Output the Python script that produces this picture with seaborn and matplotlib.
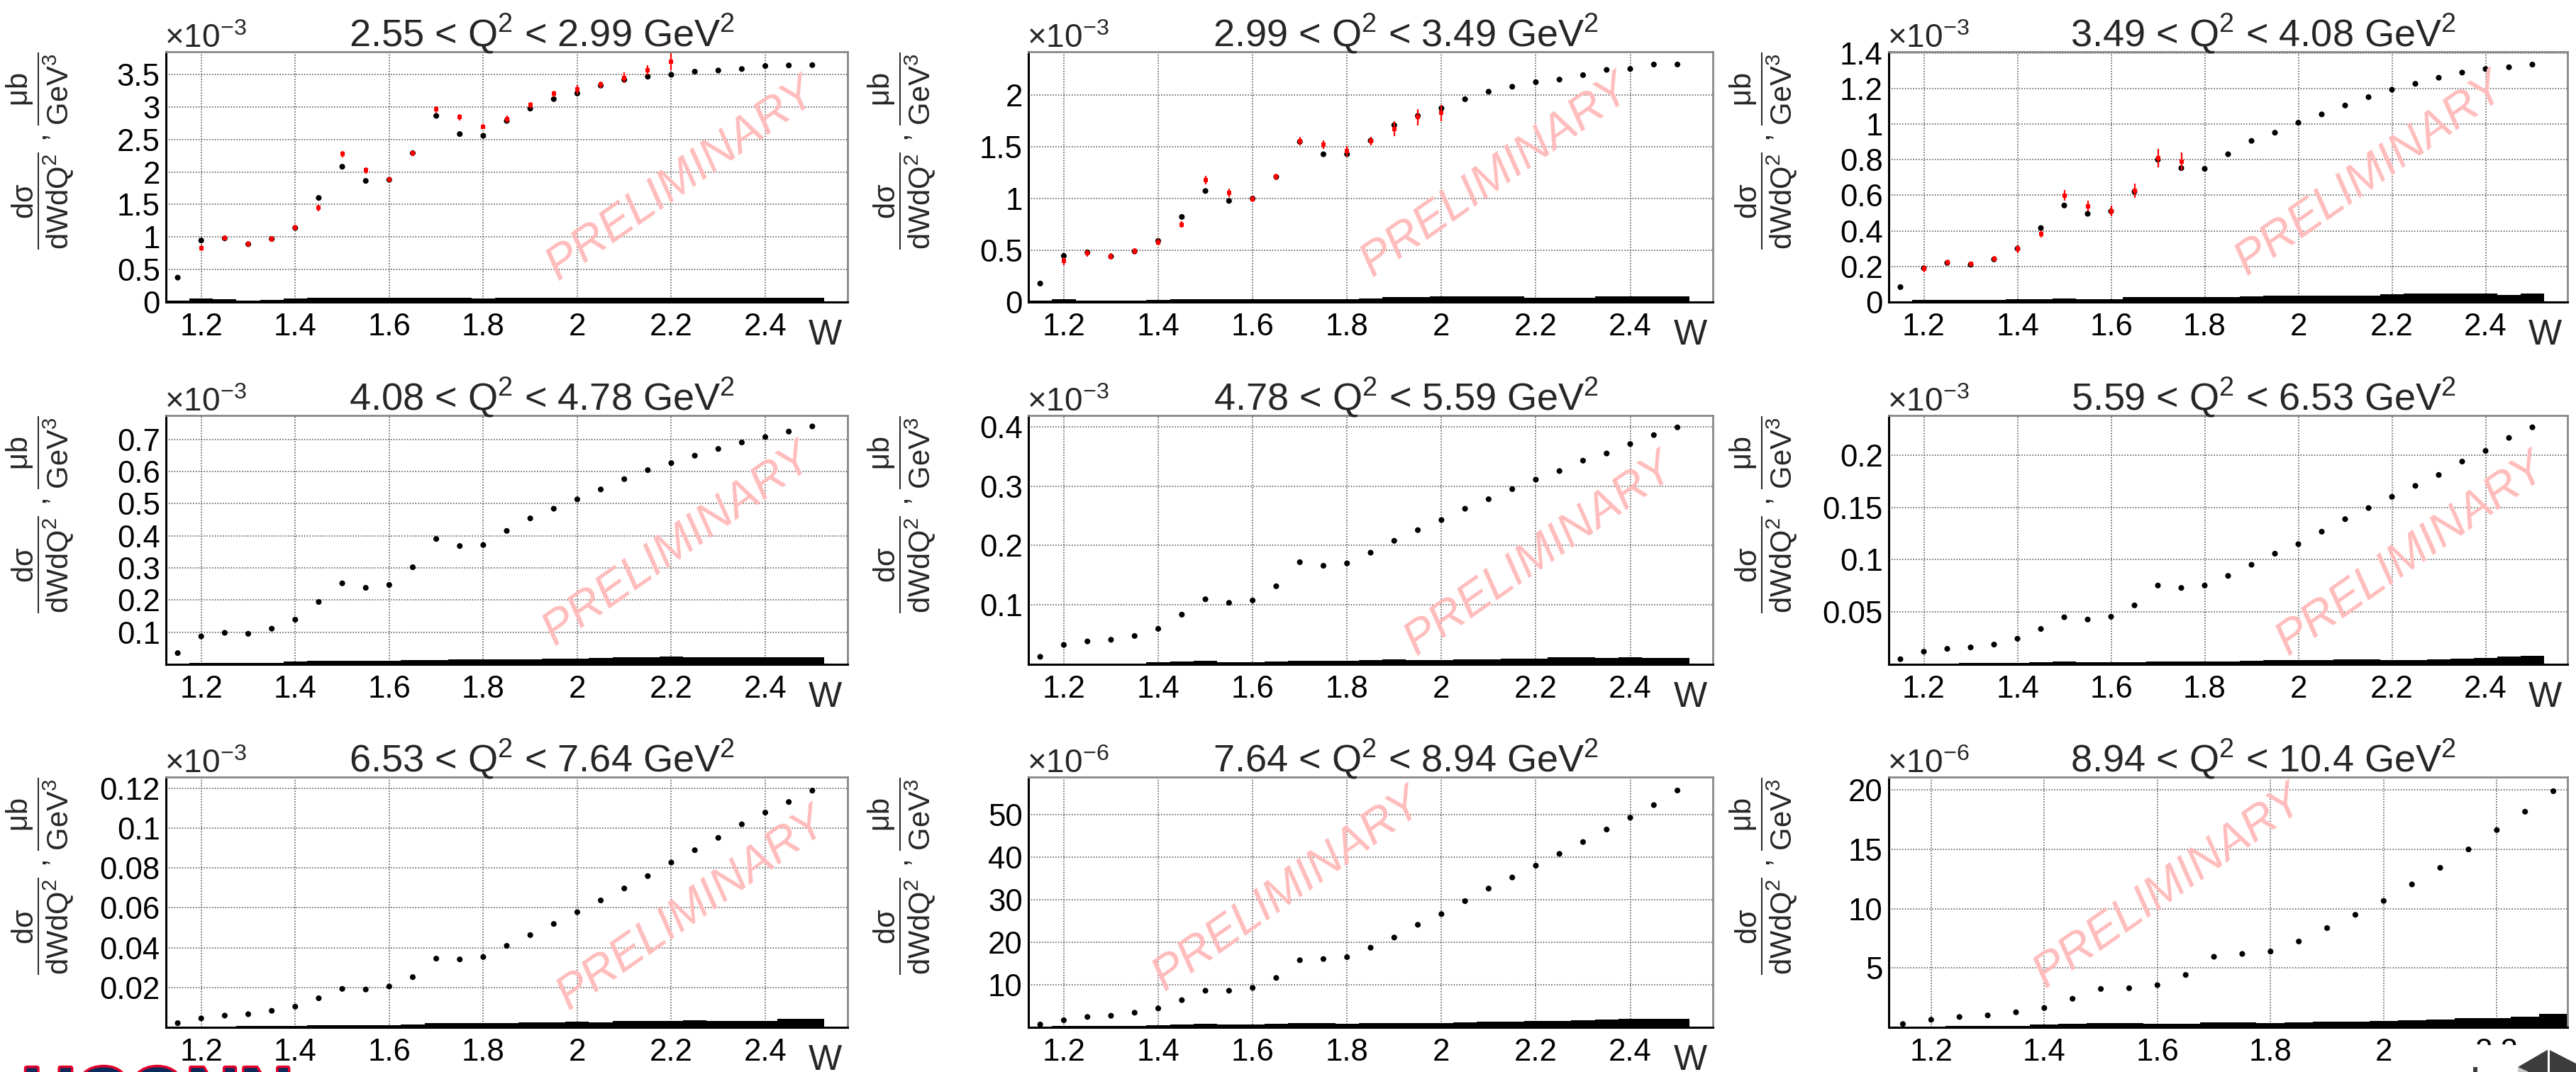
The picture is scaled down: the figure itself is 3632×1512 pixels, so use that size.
import matplotlib
matplotlib.use("Agg")
import matplotlib.pyplot as plt
import matplotlib.patheffects as pe
from matplotlib.patches import Polygon, Rectangle
import seaborn as sns

sns.set_style("white")
plt.rcParams['font.family'] = ['Liberation Sans', 'DejaVu Sans']
plt.rcParams['mathtext.fontset'] = 'custom'
plt.rcParams['mathtext.rm'] = 'Liberation Sans'
plt.rcParams['mathtext.it'] = 'Liberation Sans'
plt.rcParams['mathtext.bf'] = 'Liberation Sans:bold'
plt.rcParams['mathtext.default'] = 'regular'

# W bin centres
W = [1.15, 1.20, 1.25, 1.30, 1.35, 1.40, 1.45, 1.50, 1.55, 1.60, 1.65, 1.70, 1.75, 1.80,
     1.85, 1.90, 1.95, 2.00, 2.05, 2.10, 2.15, 2.20, 2.25, 2.30, 2.35, 2.40, 2.45, 2.50]
W9 = W[:24]

titles = ["2.55 < Q$^{2}$ < 2.99 GeV$^{2}$", "2.99 < Q$^{2}$ < 3.49 GeV$^{2}$",
          "3.49 < Q$^{2}$ < 4.08 GeV$^{2}$", "4.08 < Q$^{2}$ < 4.78 GeV$^{2}$",
          "4.78 < Q$^{2}$ < 5.59 GeV$^{2}$", "5.59 < Q$^{2}$ < 6.53 GeV$^{2}$",
          "6.53 < Q$^{2}$ < 7.64 GeV$^{2}$", "7.64 < Q$^{2}$ < 8.94 GeV$^{2}$",
          "8.94 < Q$^{2}$ < 10.4 GeV$^{2}$"]
exponents = [-3, -3, -3, -3, -3, -3, -3, -6, -6]

# black points (model), in units of the axis multiplier
xs1 = [0.376, 0.947, 0.98, 0.89, 0.97, 1.14, 1.602, 2.082, 1.864, 1.88, 2.29, 2.864, 2.584, 2.558,
       2.787, 2.976, 3.122, 3.209, 3.33, 3.42, 3.467, 3.496, 3.544, 3.562, 3.585, 3.631, 3.64, 3.645]
xs2 = [0.179, 0.446, 0.48, 0.44, 0.49, 0.59, 0.823, 1.074, 0.978, 1.0, 1.21, 1.55, 1.429, 1.43,
       1.56, 1.71, 1.80, 1.874, 1.961, 2.034, 2.082, 2.126, 2.151, 2.194, 2.245, 2.254, 2.297, 2.297]
xs3 = [0.084, 0.19, 0.22, 0.21, 0.24, 0.30, 0.416, 0.543, 0.496, 0.51, 0.62, 0.80, 0.753, 0.749,
       0.831, 0.906, 0.952, 1.008, 1.055, 1.105, 1.152, 1.194, 1.227, 1.261, 1.29, 1.31, 1.32, 1.335]
xs4 = [0.035, 0.087, 0.098, 0.095, 0.111, 0.139, 0.194, 0.252, 0.238, 0.247, 0.302, 0.39, 0.368, 0.371,
       0.415, 0.454, 0.484, 0.513, 0.544, 0.576, 0.604, 0.626, 0.649, 0.67, 0.69, 0.707, 0.724, 0.74]
xs5 = [0.0127, 0.0327, 0.0386, 0.0414, 0.0478, 0.0598, 0.0837, 0.1096, 0.1036, 0.1076, 0.1315, 0.172,
       0.166, 0.170, 0.188, 0.208, 0.226, 0.243, 0.262, 0.278, 0.295, 0.311, 0.3255, 0.343, 0.355,
       0.371, 0.386, 0.399]
xs6 = [0.0049, 0.0121, 0.0148, 0.0162, 0.0189, 0.0245, 0.0338, 0.045, 0.0428, 0.0455, 0.0563, 0.0753,
       0.073, 0.0753, 0.0845, 0.0951, 0.1057, 0.1148, 0.1267, 0.1387, 0.1493, 0.16, 0.1705, 0.1809,
       0.1937, 0.2039, 0.2163, 0.2264]
xs7 = [0.0021, 0.0045, 0.0059, 0.0066, 0.0083, 0.0104, 0.0146, 0.0193, 0.019, 0.0205, 0.0252, 0.0345,
       0.0341, 0.0353, 0.0409, 0.0463, 0.0519, 0.0578, 0.0637, 0.0697, 0.0759, 0.0827, 0.0889, 0.0951,
       0.1019, 0.1078, 0.1131, 0.1188]
xs8 = [0.67, 1.67, 2.45, 2.73, 3.45, 4.45, 6.4, 8.62, 8.62, 9.29, 11.63, 15.8, 16.08, 16.52, 18.75,
       21.14, 24.14, 26.65, 29.7, 32.66, 35.27, 38.05, 40.83, 43.62, 46.56, 49.35, 52.3, 55.74]
xs9 = [0.28, 0.64, 0.875, 1.01, 1.27, 1.63, 2.41, 3.24, 3.30, 3.56, 4.42, 5.95, 6.19, 6.39, 7.24,
       8.37, 9.49, 10.66, 12.05, 13.45, 15.0, 16.63, 18.18, 19.91]

# systematic uncertainty histograms
sys1 = [0.02, 0.05, 0.04, 0.02, 0.03, 0.05, 0.06, 0.06, 0.06, 0.06, 0.06, 0.07, 0.07, 0.05,
        0.06, 0.06, 0.06, 0.07, 0.07, 0.07, 0.07, 0.06, 0.06, 0.07, 0.06, 0.06, 0.07, 0.07]
sys2 = [0.014, 0.025, 0.011, 0.011, 0.011, 0.023, 0.03, 0.03, 0.03, 0.03, 0.03, 0.03, 0.03, 0.03,
        0.037, 0.046, 0.046, 0.053, 0.053, 0.053, 0.053, 0.043, 0.043, 0.043, 0.053, 0.053, 0.053, 0.053]
sys3 = [0.003, 0.013, 0.013, 0.013, 0.013, 0.017, 0.017, 0.021, 0.017, 0.017, 0.027, 0.027, 0.027, 0.027,
        0.027, 0.03, 0.036, 0.036, 0.036, 0.036, 0.036, 0.043, 0.047, 0.046, 0.046, 0.046, 0.04, 0.046]
sys4 = [0.002, 0.005, 0.005, 0.005, 0.005, 0.008, 0.01, 0.01, 0.01, 0.01, 0.013, 0.013, 0.015, 0.015,
        0.015, 0.015, 0.018, 0.018, 0.02, 0.023, 0.023, 0.025, 0.021, 0.021, 0.021, 0.021, 0.023, 0.023]
sys5 = [0.0005, 0.0016, 0.0016, 0.0016, 0.0016, 0.003, 0.0044, 0.0056, 0.004, 0.004, 0.005, 0.0064,
        0.0064, 0.0064, 0.0076, 0.0088, 0.0076, 0.0076, 0.0088, 0.0088, 0.01, 0.01, 0.0115, 0.0115,
        0.0104, 0.0115, 0.0104, 0.0104]
sys6 = [0.0002, 0.0005, 0.0005, 0.0013, 0.0013, 0.0013, 0.002, 0.0027, 0.002, 0.002, 0.0022, 0.003,
        0.0027, 0.0027, 0.0027, 0.0033, 0.004, 0.004, 0.004, 0.0047, 0.0047, 0.004, 0.004, 0.0047,
        0.0054, 0.0063, 0.0077, 0.0083]
sys7 = [0.0002, 0.0002, 0.0002, 0.0007, 0.0007, 0.0007, 0.0012, 0.0012, 0.0012, 0.0012, 0.0015, 0.002,
        0.002, 0.002, 0.002, 0.0026, 0.0026, 0.003, 0.0026, 0.0033, 0.0033, 0.0033, 0.0037, 0.0033,
        0.0033, 0.0033, 0.0043, 0.0043]
sys8 = [0.06, 0.33, 0.33, 0.33, 0.33, 0.5, 0.67, 0.83, 0.67, 0.67, 0.83, 1.0, 1.0, 0.83, 1.0, 1.0,
        1.0, 1.0, 1.22, 1.39, 1.39, 1.56, 1.56, 1.72, 1.89, 2.06, 2.06, 2.06]
sys9 = [0.04, 0.04, 0.14, 0.14, 0.14, 0.22, 0.28, 0.34, 0.34, 0.28, 0.3, 0.4, 0.4, 0.34, 0.4, 0.46,
        0.46, 0.52, 0.58, 0.64, 0.78, 0.78, 0.88, 1.13]

# red points (data) with statistical errors, first three Q2 bins
wd1 = W[1:22]
d1 = [0.831, 0.987, 0.893, 0.969, 1.147, 1.449, 2.275, 2.024, 1.885, 2.286, 2.962, 2.842, 2.697,
      2.813, 3.031, 3.202, 3.267, 3.347, 3.449, 3.565, 3.696]
e1 = [0.045, 0.04, 0.04, 0.04, 0.04, 0.05, 0.05, 0.05, 0.04, 0.04, 0.05, 0.05, 0.04, 0.05, 0.05,
      0.05, 0.07, 0.05, 0.08, 0.08, 0.13]
wd2 = W[1:18]
d2 = [0.395, 0.471, 0.441, 0.491, 0.578, 0.75, 1.179, 1.058, 0.997, 1.211, 1.554, 1.522, 1.458,
      1.557, 1.675, 1.787, 1.829]
e2 = [0.04, 0.03, 0.03, 0.03, 0.03, 0.03, 0.04, 0.04, 0.03, 0.03, 0.04, 0.04, 0.05, 0.04, 0.07, 0.08, 0.08]
wd3 = W[1:13]
d3 = [0.186, 0.223, 0.214, 0.243, 0.297, 0.383, 0.598, 0.54, 0.512, 0.625, 0.809, 0.791]
e3 = [0.02, 0.015, 0.015, 0.015, 0.02, 0.02, 0.03, 0.03, 0.03, 0.04, 0.05, 0.05]

ylims = [(0, 3.85), (0, 2.42), (0, 1.407), (0, 0.774), (0, 0.419), (0, 0.2377),
         (0, 0.1256), (0, 58.9), (0, 21.1)]
yticks = [[0, 0.5, 1, 1.5, 2, 2.5, 3, 3.5], [0, 0.5, 1, 1.5, 2], [0, 0.2, 0.4, 0.6, 0.8, 1, 1.2, 1.4],
          [0.1, 0.2, 0.3, 0.4, 0.5, 0.6, 0.7], [0.1, 0.2, 0.3, 0.4], [0.05, 0.1, 0.15, 0.2],
          [0.02, 0.04, 0.06, 0.08, 0.1, 0.12], [10, 20, 30, 40, 50], [5, 10, 15, 20]]
prelim_pos = [(0.757, 0.49), (0.683, 0.504), (0.71, 0.51), (0.752, 0.48), (0.747, 0.44),
              (0.77, 0.44), (0.772, 0.473), (0.38, 0.55), (0.413, 0.56)]

model = [xs1, xs2, xs3, xs4, xs5, xs6, xs7, xs8, xs9]
syst = [sys1, sys2, sys3, sys4, sys5, sys6, sys7, sys8, sys9]
data = {0: (wd1, d1, e1), 1: (wd2, d2, e2), 2: (wd3, d3, e3)}

FW, FH = 3632, 1512
fig = plt.figure(figsize=(FW / 100, FH / 100), dpi=100)
lefts = [234, 1450, 2663]
rights = [1195, 2415, 3620]
tops = [73, 586, 1096]
bottoms = [426, 937, 1449]

ylabel = r'$\dfrac{d\sigma}{dWdQ^{2}}$ , $\dfrac{\mu b}{GeV^{3}}$'

for i in range(9):
    r, c = divmod(i, 3)
    ax = fig.add_axes([lefts[c] / FW, 1 - bottoms[r] / FH,
                       (rights[c] - lefts[c]) / FW, (bottoms[r] - tops[r]) / FH])
    w = W9 if i == 8 else W
    ax.bar(w, syst[i], width=0.05, color='black', linewidth=0, zorder=2)
    sns.scatterplot(x=w, y=model[i], ax=ax, color='black', s=34, marker='o',
                    edgecolor='none', zorder=3)
    if i in data:
        wd, dv, ev = data[i]
        ax.errorbar(wd, dv, yerr=ev, fmt='s', color='red', ms=4.5, mew=0,
                    elinewidth=1.6, capsize=2.5, capthick=1.6, zorder=4)
    ax.set_xlim(1.125, 2.325 if i == 8 else 2.575)
    ax.set_ylim(*ylims[i])
    ax.set_xticks([1.2, 1.4, 1.6, 1.8, 2.0, 2.2] + ([] if i == 8 else [2.4]))
    ax.set_xticklabels([f'{t:g}' for t in ax.get_xticks()])
    ax.set_yticks(yticks[i])
    ax.set_yticklabels([f'{t:g}' for t in yticks[i]])
    ax.tick_params(axis='both', direction='in', labelsize=31.5, colors='black')
    ax.tick_params(axis='x', length=11, width=1.5, pad=11)
    ax.tick_params(axis='y', length=16, width=2.5, pad=6, color='#555555')
    ax.grid(True, linestyle=(0, (1, 1.5)), color='#444444', linewidth=1.1, zorder=1)
    ax.set_axisbelow(True)
    for s in ['left', 'bottom']:
        ax.spines[s].set_color('black')
        ax.spines[s].set_linewidth(2.2)
    for s in ['top', 'right']:
        ax.spines[s].set_color('#888888')
        ax.spines[s].set_linewidth(2)
    ax.set_xlabel('')
    ax.set_ylabel('')

    ax.annotate(titles[i], xy=(0.5, 1), xycoords='axes fraction', xytext=(50, 8),
                textcoords='offset pixels', ha='center', va='baseline', fontsize=39)
    ax.annotate(r'$\times10^{%d}$' % exponents[i], xy=(0, 1), xycoords='axes fraction',
                xytext=(-2, 6), textcoords='offset pixels', ha='left', va='baseline', fontsize=33)
    ax.annotate('W', xy=(1, 0), xycoords='axes fraction', xytext=(-8, -24),
                textcoords='offset pixels', ha='right', va='top', fontsize=36)
    ax.text(-0.185, 1.0, ylabel, transform=ax.transAxes, rotation=90, ha='center',
            va='top', fontsize=30)
    px, py = prelim_pos[i]
    ax.text(px, py, 'PRELIMINARY', transform=ax.transAxes, rotation=35, ha='center',
            va='center', fontsize=48, style='italic', color='#ffbcbc', zorder=5)

# logos at the bottom edge (cropped)
fig.text(31 / FW, 1 - 1578 / FH, 'UCONN', fontsize=75, fontweight='bold', color='#0c2b5c',
         ha='left', va='baseline',
         path_effects=[pe.withStroke(linewidth=5, foreground='#e4002b')])
fig.patches.append(Rectangle((3470 / FW, 0), 162 / FW, 38 / FH, transform=fig.transFigure,
                             facecolor='white', edgecolor='none', zorder=10))
fig.patches.append(Polygon([(3550 / FW, 1 - 1505 / FH), (3593 / FW, 1 - 1480 / FH),
                            (1.0, 1 - 1500 / FH), (1.0, 0), (3565 / FW, 0)],
                           closed=True, transform=fig.transFigure,
                           facecolor='#3c3c3c', edgecolor='none', zorder=11))
fig.patches.append(Polygon([(3550 / FW, 1 - 1505 / FH), (3565 / FW, 0), (3550 / FW, 0)],
                           closed=True, transform=fig.transFigure,
                           facecolor='#c8c8c8', edgecolor='none', zorder=11))
fig.patches.append(Rectangle((3592 / FW, 0), 3 / FW, 32 / FH, transform=fig.transFigure,
                             facecolor='white', edgecolor='none', zorder=12))
fig.patches.append(Rectangle((3487 / FW, 0), 6 / FW, 7 / FH, transform=fig.transFigure,
                             facecolor='#3c3c3c', edgecolor='none', zorder=12))

fig.savefig('out.png', dpi=100, facecolor='white')
